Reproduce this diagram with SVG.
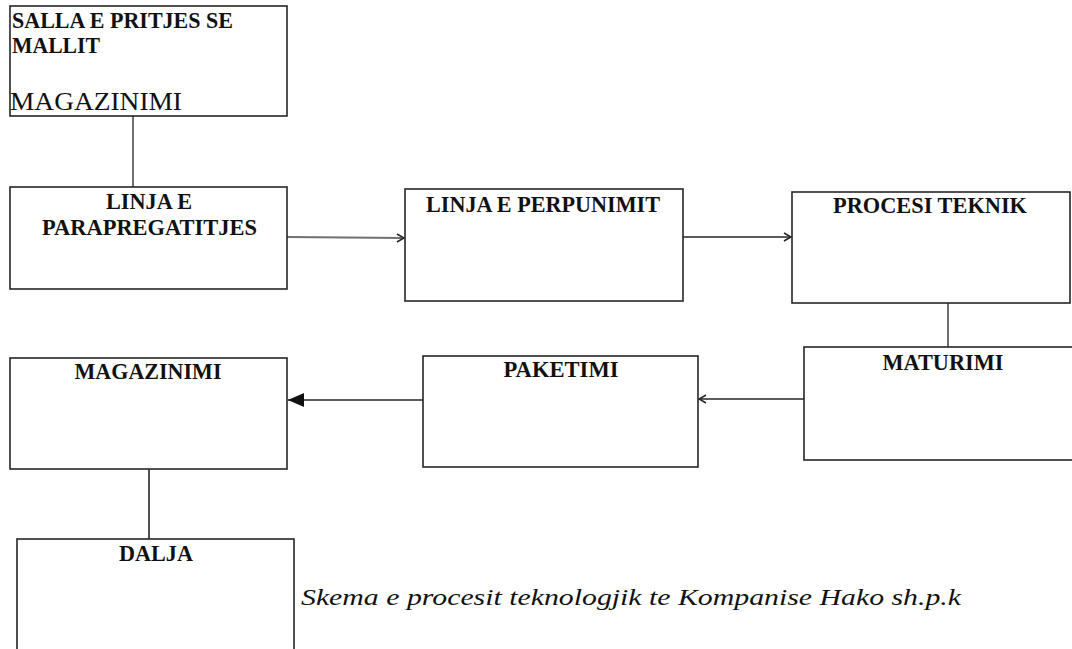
<svg xmlns="http://www.w3.org/2000/svg" width="1072" height="649" viewBox="0 0 1072 649">
  <style>
    .box { fill: #ffffff; stroke: #262626; stroke-width: 1.6; }
    .lbl { font-family: "Liberation Serif", "Times New Roman", serif; font-weight: bold; font-size: 24px; fill: #111; }
    .reg { font-family: "Liberation Serif", "Times New Roman", serif; font-size: 26px; fill: #111; }
    .cap { font-family: "Liberation Serif", "Times New Roman", serif; font-style: italic; font-size: 24px; fill: #111; }
    .conn { fill: none; stroke: #262626; stroke-width: 1.6; }
    .gray { stroke: #707070; stroke-width: 2; }
  </style>
  <defs>
    <marker id="open" viewBox="0 0 10 10" refX="9" refY="5" markerWidth="10" markerHeight="10" markerUnits="userSpaceOnUse" orient="auto">
      <path d="M2,1 L9,5 L2,9" fill="none" stroke="#262626" stroke-width="1.6"/>
    </marker>
    <marker id="filled" viewBox="0 0 16 14" refX="16" refY="7" markerWidth="16" markerHeight="14" markerUnits="userSpaceOnUse" orient="auto">
      <path d="M0,0 L16,7 L0,14 Z" fill="#111"/>
    </marker>
  </defs>

  <g id="connectors">
    <line class="conn gray" x1="133" y1="116" x2="133" y2="192"/>
    <line class="conn gray" x1="287" y1="237" x2="404" y2="238" marker-end="url(#open)"/>
    <line class="conn" x1="683" y1="237" x2="791" y2="237" marker-end="url(#open)"/>
    <line class="conn gray" x1="948" y1="303" x2="948" y2="353"/>
    <line class="conn" x1="804" y1="399" x2="699" y2="399" marker-end="url(#open)"/>
    <line class="conn" x1="423" y1="400" x2="288" y2="400" marker-end="url(#filled)"/>
    <line class="conn" x1="149" y1="469" x2="149" y2="539"/>
  </g>

  <g id="salla">
    <rect class="box" x="10" y="6" width="277" height="110"/>
    <text class="lbl" x="12" y="28" textLength="221" lengthAdjust="spacingAndGlyphs">SALLA E PRITJES SE</text>
    <text class="lbl" x="12" y="53" textLength="88" lengthAdjust="spacingAndGlyphs">MALLIT</text>
    <text class="reg" x="10" y="110" textLength="172" lengthAdjust="spacingAndGlyphs">MAGAZINIMI</text>
  </g>

  <g id="parapregatitjes">
    <rect class="box" x="10" y="187" width="277" height="102"/>
    <text class="lbl" x="149" y="209" text-anchor="middle" textLength="86" lengthAdjust="spacingAndGlyphs">LINJA E</text>
    <text class="lbl" x="149.5" y="235" text-anchor="middle" textLength="215" lengthAdjust="spacingAndGlyphs">PARAPREGATITJES</text>
  </g>

  <g id="perpunimit">
    <rect class="box" x="405" y="189" width="278" height="112"/>
    <text class="lbl" x="543" y="212" text-anchor="middle" textLength="234" lengthAdjust="spacingAndGlyphs">LINJA E PERPUNIMIT</text>
  </g>

  <g id="procesi">
    <rect class="box" x="792" y="192" width="278" height="111"/>
    <text class="lbl" x="930" y="213" text-anchor="middle" textLength="194" lengthAdjust="spacingAndGlyphs">PROCESI TEKNIK</text>
  </g>

  <g id="maturimi">
    <rect class="box" x="804" y="347" width="280" height="113"/>
    <text class="lbl" x="943" y="370" text-anchor="middle" textLength="121" lengthAdjust="spacingAndGlyphs">MATURIMI</text>
  </g>

  <g id="paketimi">
    <rect class="box" x="423" y="356" width="275" height="111"/>
    <text class="lbl" x="561" y="377" text-anchor="middle" textLength="115" lengthAdjust="spacingAndGlyphs">PAKETIMI</text>
  </g>

  <g id="magazinimi">
    <rect class="box" x="10" y="358" width="277" height="111"/>
    <text class="lbl" x="148" y="379" text-anchor="middle" textLength="147" lengthAdjust="spacingAndGlyphs">MAGAZINIMI</text>
  </g>

  <g id="dalja">
    <rect class="box" x="17" y="539" width="277" height="130"/>
    <text class="lbl" x="156" y="561" text-anchor="middle" textLength="74" lengthAdjust="spacingAndGlyphs">DALJA</text>
  </g>

  <g id="caption">
    <text class="cap" x="301" y="605" textLength="660" lengthAdjust="spacingAndGlyphs">Skema e procesit teknologjik te Kompanise Hako sh.p.k</text>
  </g>
</svg>
